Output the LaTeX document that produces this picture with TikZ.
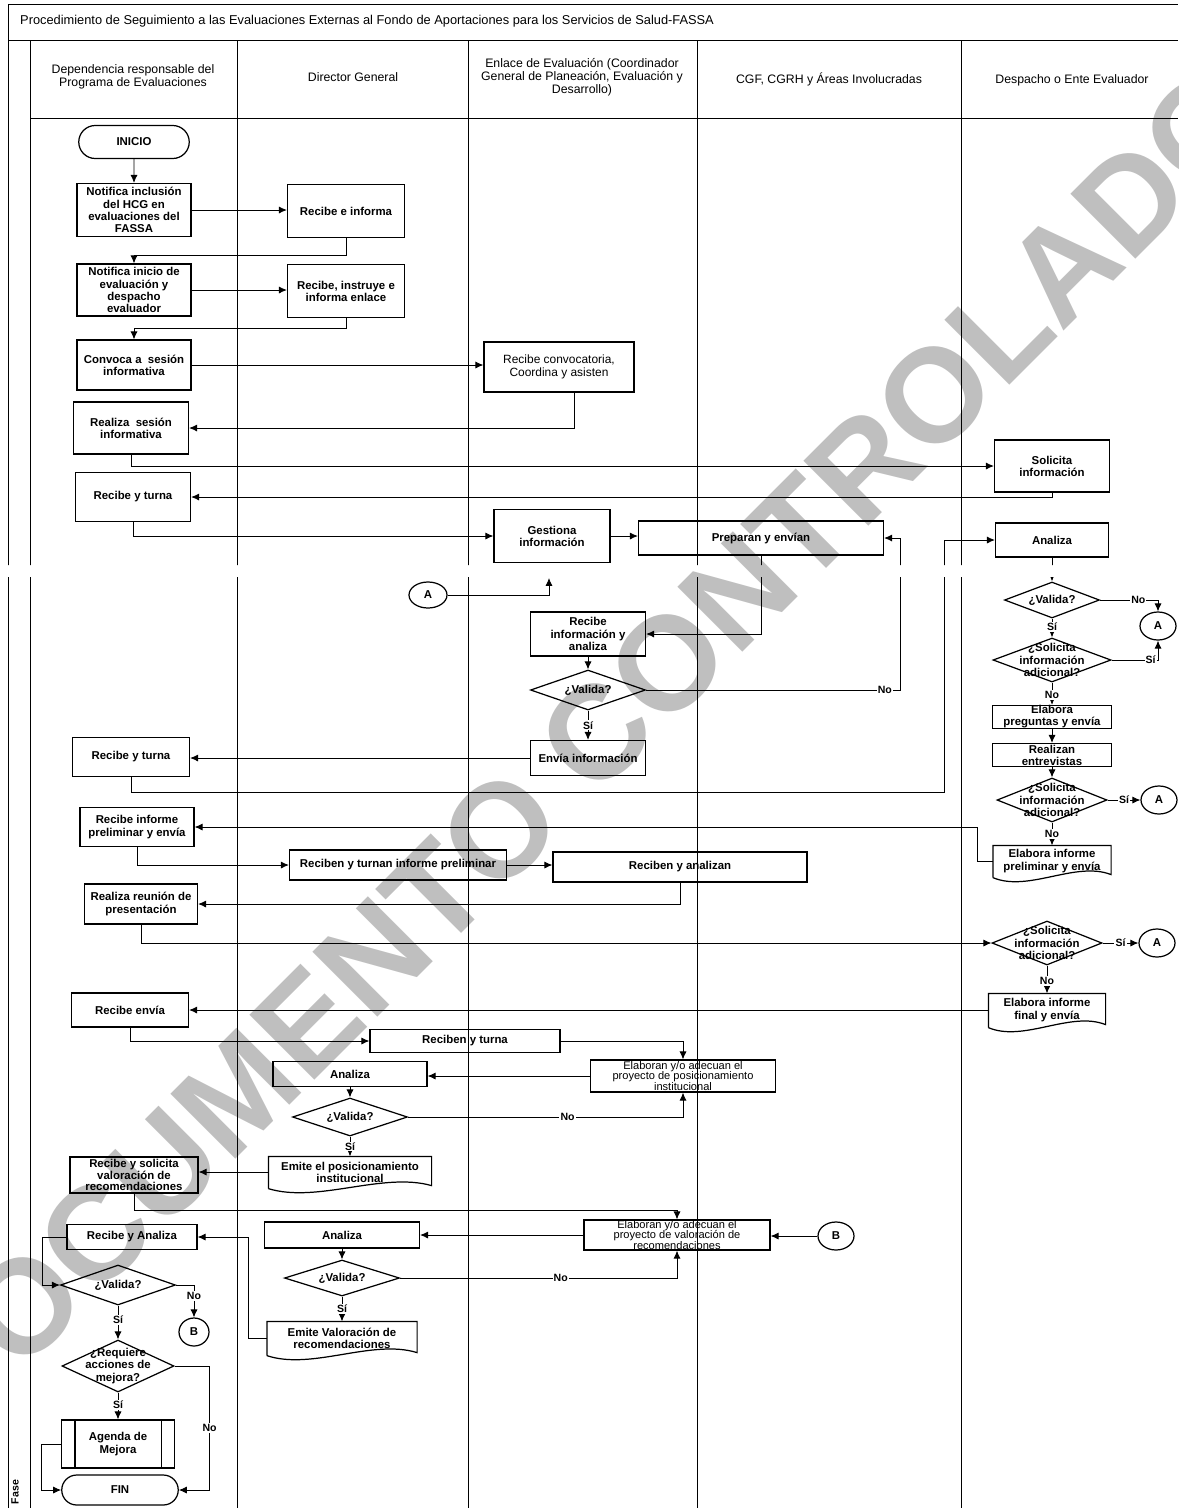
\documentclass[tikz,border=0pt]{standalone}
\usepackage{fontspec}
\setmainfont{Liberation Sans}
\usetikzlibrary{arrows.meta,positioning,calc,shapes.geometric,shapes.misc}

\tikzset{
  wh/.style 2 args={minimum width=#1*0.02cm, minimum height=#2*0.02cm},
  proc/.style={draw, line width=0.7pt, inner sep=1pt, align=center, font=\fontsize{6.5}{6.9}\selectfont\bfseries},
  term/.style={proc, rounded rectangle},
  dec/.style={draw, diamond, line width=0.7pt, inner sep=0pt},
  txt/.style={align=center, inner sep=0pt, font=\fontsize{6.5}{6.9}\selectfont\bfseries},
  con/.style={draw, ellipse, line width=0.7pt, inner sep=0pt, font=\fontsize{6.5}{6.9}\selectfont\bfseries, wh={36}{28}},
  doc/.style={proc, draw=none},
  flecha/.style={line width=0.5pt, -{Latex[length=4.5pt,width=4pt]}},
  lbl/.style={fill=white, inner sep=0.6pt, font=\fontsize{6}{6}\selectfont\bfseries},
  carril/.style={line width=0.5pt},
  head/.style={align=center, font=\fontsize{7}{7.4}\selectfont}
}

\newcommand{\docborde}[1]{%
  \draw[line width=0.7pt] ($(#1.south west)+(0,1)$) -- (#1.north west) -- (#1.north east) -- ($(#1.south east)+(0,-2)$)
    .. controls ($(#1.south west)!0.7!(#1.south east)+(0,-16)$) and ($(#1.south west)!0.3!(#1.south east)+(0,16)$) .. ($(#1.south west)+(0,1)$);}

\begin{document}
\begin{tikzpicture}[x=0.02cm, y=-0.02cm]
  \useasboundingbox (0,0) rectangle (1178,1508);

  % Marca de agua
  \node[rotate=45, text=black!25, inner sep=0pt, font=\fontsize{76}{76}\selectfont\bfseries] (marca) at (579,751) {DOCUMENTO CONTROLADO};

  % Encabezado
  \node[anchor=west, font=\fontsize{7.3}{7.3}\selectfont] (titulo) at (14,21) {Procedimiento de Seguimiento a las Evaluaciones Externas al Fondo de Aportaciones para los Servicios de Salud-FASSA};
  \node[head] (h1) at (133,77) {Dependencia responsable del\\Programa de Evaluaciones};
  \node[head] (h2) at (353,77) {Director General};
  \node[head] (h3) at (582,77) {Enlace de Evaluación (Coordinador\\General de Planeación, Evaluación y\\Desarrollo)};
  \node[head] (h4) at (829,79) {CGF, CGRH y Áreas Involucradas};
  \node[head] (h5) at (1072,80) {Despacho o Ente Evaluador};
  \node[rotate=90, font=\fontsize{6}{6}\selectfont\bfseries] (fase) at (15,1492) {Fase};

  % Dependencia responsable
  \node[term, wh={114}{33}] (ini) at (134,142) {INICIO};
  \node[proc, wh={114}{53}] (not1) at (134,210) {Notifica inclusión\\del HCG en\\evaluaciones del\\FASSA};
  \node[proc, wh={114}{52}] (not2) at (134,290) {Notifica inicio de\\evaluación y\\despacho\\evaluador};
  \node[proc, wh={114}{50}] (conv) at (134,365) {Convoca a~ sesión\\informativa};
  \node[proc, wh={115}{52}] (real) at (131,428) {Realiza~ sesión\\informativa};
  \node[proc, wh={115}{49}] (rt1) at (133,497) {Recibe y turna};
  \node[proc, wh={117}{39}] (rt2) at (131,757) {Recibe y turna};
  \node[proc, wh={114}{39}] (rip) at (137,827) {Recibe informe\\preliminar y envía};
  \node[proc, wh={113}{40}] (rrp) at (141,904) {Realiza reunión de\\presentación};
  \node[proc, wh={117}{34}] (renv) at (130,1010) {Recibe envía};
  \node[proc, wh={128}{36}, inner sep=0pt, font=\fontsize{6.5}{6.5}\selectfont\bfseries] (rsv) at (134,1175) {Recibe y solicita\\valoración de\\recomendaciones};
  \node[proc, wh={130}{25}] (rya) at (132,1237) {Recibe y Analiza};
  \node[dec, wh={115}{40}, label={[txt]center:¿Valida?}] (val5) at (118,1285) {};
  \node[con, wh={30}{28}] (b2) at (194,1332) {B};
  \node[dec, wh={112}{52}, label={[txt]center:{¿Requiere\\acciones de\\mejora?}}] (req) at (118,1366) {};
  \node[proc, wh={113}{48}] (agm) at (118,1444) {Agenda de\\Mejora};
  \node[term, wh={120}{30}] (fin) at (120,1490) {FIN};

  % Director General
  \node[proc, wh={117}{53}] (rei) at (346,211) {Recibe e informa};
  \node[proc, wh={117}{53}] (rie) at (346,291) {Recibe, instruye e\\informa enlace};
  \node[proc, wh={217}{30}] (rtip) at (398,865) {Reciben y turnan informe preliminar};
  \node[proc, wh={190}{23}] (rtu) at (465,1041) {Reciben y turna};
  \node[proc, wh={154}{25}] (an3) at (350,1074) {Analiza};
  \node[dec, wh={115}{38}, label={[txt]center:¿Valida?}] (val3) at (350,1117) {};
  \node[doc, wh={162}{30}] (emp) at (350,1172) {Emite el posicionamiento\\institucional};
  \node[proc, wh={155}{26}] (an4) at (342,1235) {Analiza};
  \node[dec, wh={115}{36}, label={[txt]center:¿Valida?}] (val4) at (342,1278) {};
  \node[doc, wh={149}{32}] (emv) at (342,1338) {Emite Valoración de\\recomendaciones};

  % Enlace de Evaluacion
  \node[proc, wh={150}{50}, font=\fontsize{6.8}{7.2}\selectfont] (rcc) at (559,367) {Recibe convocatoria,\\Coordina y asisten};
  \node[proc, wh={116}{53}] (ges) at (552,536) {Gestiona\\información};
  \node[proc, wh={245}{34}] (prep) at (761,538) {Preparan y envían};
  \node[con, wh={38}{26}] (a1) at (428,595) {A};
  \coordinate (gesin) at (549,578);
  \node[proc, wh={115}{44}] (ria) at (588,634) {Recibe\\información y\\analiza};
  \node[dec, wh={115}{40}, label={[txt]center:¿Valida?}] (val1) at (588,690) {};
  \node[proc, wh={115}{35}] (env) at (588,758) {Envía información};
  \node[proc, wh={254}{30}] (ran) at (680,867) {Reciben y analizan};
  \node[proc, wh={185}{32}, inner sep=0pt, font=\fontsize{6.3}{6.0}\selectfont] (epi) at (683,1076) {Elaboran y/o adecuan el\\proyecto de posicionamiento\\institucional};
  \node[proc, wh={186}{30}, inner sep=0pt, font=\fontsize{6.3}{6.0}\selectfont] (evr) at (677,1235) {Elaboran y/o adecuan el\\proyecto de valoración de\\recomendaciones};
  \node[con] (b1) at (836,1236) {B};

  % Despacho o Ente Evaluador
  \node[proc, wh={115}{52}] (sol) at (1052,466) {Solicita\\información};
  \node[proc, wh={113}{34}] (an2) at (1052,540) {Analiza};
  \node[dec, wh={95}{36}, label={[txt]center:¿Valida?}] (val2) at (1052,600) {};
  \node[con] (a2) at (1158,626) {A};
  \node[dec, wh={118}{44}, label={[txt]center:{¿Solicita\\información\\adicional?}}] (sia1) at (1052,660) {};
  \node[proc, wh={119}{23}, inner sep=0pt] (epe) at (1052,717) {Elabora\\preguntas y envía};
  \node[proc, wh={119}{23}, inner sep=0pt] (ent) at (1052,755) {Realizan\\entrevistas};
  \node[dec, wh={110}{44}, label={[txt]center:{¿Solicita\\información\\adicional?}}] (sia2) at (1052,800) {};
  \node[con] (a3) at (1159,800) {A};
  \node[doc, wh={117}{30}] (eip) at (1052,861) {Elabora informe\\preliminar y envía};
  \node[dec, wh={110}{44}, label={[txt]center:{¿Solicita\\información\\adicional?}}] (sia3) at (1047,943) {};
  \node[con] (a4) at (1157,943) {A};
  \node[doc, wh={116}{32}] (eif) at (1047,1010) {Elabora informe\\final y envía};

  % Bordes especiales
  \docborde{emp}
  \docborde{emv}
  \docborde{eip}
  \docborde{eif}
  \draw[line width=0.7pt] ($(agm.north west)+(14,0)$) -- ($(agm.south west)+(14,0)$);
  \draw[line width=0.7pt] ($(agm.north east)+(-14,0)$) -- ($(agm.south east)+(-14,0)$);

  \begin{scope}
    \clip (0,0) rectangle (1178,565) (0,577) rectangle (1178,1508);
    % Marco y carriles
    \draw[carril] (8,1508) -- (8,4) -- (1178,4);
    \draw[carril] (8,40) -- (1178,40);
    \draw[carril] (30,118) -- (1178,118);
    \foreach \x in {30,237,468,697,961}
      \draw[carril] (\x,40) -- (\x,1508);

    % Conectores
    \draw[flecha] (ini) -- (not1);
    \draw[flecha] (not1.east) -- (not1.east -| rei.west);
    \draw[flecha] (rei.south) -- ++(0,17) -| (not2.north);
    \draw[flecha] (not2.east) -- (not2.east -| rie.west);
    \draw[flecha] (rie.south) -- ++(0,10) -| (conv.north);
    \draw[flecha] (conv.east) -- (conv.east -| rcc.west);
    \draw[flecha] ($(rcc.south)+(15,0)$) |- (real.east);
    \draw[flecha] (real.south) |- (sol.west);
    \draw[flecha] (sol.south) |- (rt1.east);
    \draw[flecha] (rt1.south) |- (ges.west);
    \draw[flecha] (ges.east) -- (ges.east -| prep.west);
    \draw[flecha] (a1.east) -| (gesin);
    \draw[flecha] (prep.south) |- (ria.east);
    \draw[flecha] (ria) -- (val1);
    \draw[flecha] (val1.east) -| node[lbl, pos=0.47] {No} ($(prep.east)+(16,0)$) -- (prep.east);
    \draw[flecha] (val1) -- node[lbl] {Sí} (env);
    \draw[flecha] (env.west) -- (env.west -| rt2.east);
    \draw[flecha] (rt2.south) -- ++(0,15) -| ($(an2.west)+(-50,0)$) -- (an2.west);
    \draw[flecha] (an2) -- (val2);
    \draw[flecha] (val2.east) -| node[lbl, pos=0.33] {No} (a2.north);
    \draw[flecha] (val2) -- node[lbl, pos=0.45] {Sí} (sia1);
    \draw[flecha] (sia1.east) -| node[lbl, pos=0.42] {Sí} (a2.south);
    \draw[flecha] (sia1) -- node[lbl, pos=0.55] {No} (epe);
    \draw[flecha] (epe) -- (ent);
    \draw[flecha] (ent) -- (sia2);
    \draw[flecha] (sia2) -- node[lbl] {Sí} (a3);
    \draw[flecha] (sia2) -- node[lbl] {No} (eip);
    \draw[flecha] (eip.west) -- ++(-15,0) |- (rip.east);
    \draw[flecha] (rip.south) |- (rtip.west);
    \draw[flecha] (rtip.east) -- (rtip.east -| ran.west);
    \draw[flecha] (ran.south) |- (rrp.east);
    \draw[flecha] (rrp.south) |- (sia3.west);
    \draw[flecha] (sia3) -- node[lbl] {Sí} (a4);
    \draw[flecha] (sia3) -- node[lbl, pos=0.55] {No} (eif);
    \draw[flecha] (eif.west) -- (eif.west -| renv.east);
    \draw[flecha] (renv.south) |- (rtu.west);
    \draw[flecha] (rtu.east) -| (epi.north);
    \draw[flecha] (epi.west) -- (epi.west -| an3.east);
    \draw[flecha] (an3) -- (val3);
    \draw[flecha] (val3.east) -| node[lbl, pos=0.29] {No} (epi.south);
    \draw[flecha] (val3) -- node[lbl] {Sí} (emp);
    \draw[flecha] (emp.west) -- (emp.west -| rsv.east);
    \draw[flecha] (rsv.south) -- ++(0,17) -| (evr.north);
    \draw[flecha] (b1.west) -- (b1.west -| evr.east);
    \draw[flecha] (evr.west) -- (evr.west -| an4.east);
    \draw[flecha] (an4) -- (val4);
    \draw[flecha] (val4.east) -| node[lbl, pos=0.29] {No} (evr.south);
    \draw[flecha] (val4) -- node[lbl] {Sí} (emv);
    \draw[flecha] (emv.west) -- ++(-18,0) |- (rya.east);
    \draw[flecha] (rya.west) -- ++(-24,0) |- (val5.west);
    \draw[flecha] (val5.east) -| node[lbl, pos=0.67] {No} (b2.north);
    \draw[flecha] (val5) -- node[lbl, pos=0.43] {Sí} (req);
    \draw[flecha] (req) -- node[lbl, pos=0.46] {Sí} (agm);
    \draw[flecha] (req.east) -- ++(35,0) |- node[lbl, pos=0.25] {No} (fin.east);
    \draw[flecha] (agm.west) -- ++(-19,0) |- (fin.west);
  \end{scope}
\end{tikzpicture}
\end{document}
